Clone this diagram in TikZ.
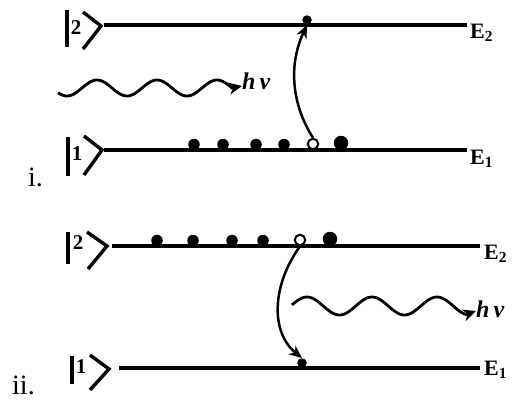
\documentclass[tikz,border=0pt]{standalone}
\usepackage{fontspec}
\setmainfont{Liberation Serif}
\usetikzlibrary{arrows.meta}
\begin{document}
\begin{tikzpicture}[x=1pt,y=-1pt,
  level/.style={line width=3.4pt},
  ketline/.style={line width=3.4pt},
  eldot/.style={circle,fill=black,inner sep=0pt,minimum size=#1},
  eldot/.default=11.5pt,
  hole/.style={circle,draw=black,line width=2pt,fill=white,inner sep=0pt,minimum size=10.5pt},
  trans/.style={line width=2.5pt,-{Stealth[length=13pt,width=11pt]}},
  photon/.style={line width=2.8pt,-{Stealth[length=13pt,width=12pt]}},
  elabel/.style={font=\fontsize{22}{25}\selectfont\bfseries,anchor=base west,inner sep=0pt},
  kdigit/.style={font=\fontsize{21}{24}\selectfont\bfseries,inner sep=0pt},
  hnu/.style={font=\fontsize{24}{27}\selectfont\bfseries\itshape,anchor=base west,inner sep=0pt},
  tag/.style={font=\fontsize{28}{32}\selectfont,anchor=base west,inner sep=0pt}]
\useasboundingbox (0,0) rectangle (519,399);

% ---------- panel i: absorption ----------
% kets
\draw[ketline] (67,10) -- (67,47);
\node[kdigit] (k2a) at (76,28) {2};
\draw[ketline] (83,12) -- (101,26) -- (83,49);
\draw[ketline] (68,137) -- (68,176);
\node[kdigit] (k1a) at (77,154) {1};
\draw[ketline] (84,136) -- (102,150) -- (84,175);
% energy levels
\coordinate (E2aL) at (104,25);  \coordinate (E2aR) at (467,25);
\coordinate (E1aL) at (104,150); \coordinate (E1aR) at (467,150);
\draw[level] (E2aL) -- (E2aR);
\draw[level] (E1aL) -- (E1aR);
\node[elabel] (lE2a) at (470,38) {E\textsubscript{2}};
\node[elabel] (lE1a) at (470,164) {E\textsubscript{1}};
% electrons in the ground level
\node[eldot] (da1) at (194,144.5) {};
\node[eldot] (da2) at (223,144.5) {};
\node[eldot] (da3) at (256,144.5) {};
\node[eldot] (da4) at (284,144.5) {};
\node[hole]  (ha)  at (313,144) {};
\node[eldot=14.5pt] (da5) at (341,143) {};
% excited electron
\node[eldot=9.5pt] (ua) at (307,20) {};
% incoming photon
\draw[photon] plot[domain=58:232,samples=90] (\x,{88-8*sin((\x-97)*6+90)}) -- (242,86);
\node[hnu] (hva) at (242,89) {h\,ν};
% excitation
\draw[trans] (ha.north) .. controls (295,110) and (286,70) .. (ua.south);
\node[tag] (ta) at (28,186) {i.};

% ---------- panel ii: emission ----------
\draw[ketline] (68,232) -- (68,264);
\node[kdigit] (k2b) at (78,243) {2};
\draw[ketline] (87,232) -- (107,246) -- (88,269);
\draw[ketline] (72,356) -- (72,384);
\node[kdigit] (k1b) at (81,367) {1};
\draw[ketline] (90,355) -- (109,369) -- (90,390);
\coordinate (E2bL) at (112,246); \coordinate (E2bR) at (480,246);
\coordinate (E1bL) at (119,368); \coordinate (E1bR) at (480,368);
\draw[level] (E2bL) -- (E2bR);
\draw[level] (E1bL) -- (E1bR);
\node[elabel] (lE2b) at (484,259) {E\textsubscript{2}};
\node[elabel] (lE1b) at (484,375) {E\textsubscript{1}};
% electrons in the upper level
\node[eldot] (db1) at (157,240.5) {};
\node[eldot] (db2) at (193,240.5) {};
\node[eldot] (db3) at (232,240.5) {};
\node[eldot] (db4) at (263,240.5) {};
\node[hole]  (hb)  at (300,240) {};
\node[eldot=14.5pt] (db5) at (330,239) {};
% electron after decay
\node[eldot=9.5pt] (lb) at (302,363) {};
% decay
\draw[trans] (hb.south) .. controls (272,285) and (270,332) .. (lb.north);
% emitted photon
\draw[photon] plot[domain=292:466,samples=90] (\x,{306-9*sin((\x-307)/65*360+90)}) -- (476,311);
\node[hnu] (hvb) at (476,317) {h\,ν};
\node[tag] (tb) at (12,394) {ii.};
\end{tikzpicture}
\end{document}
